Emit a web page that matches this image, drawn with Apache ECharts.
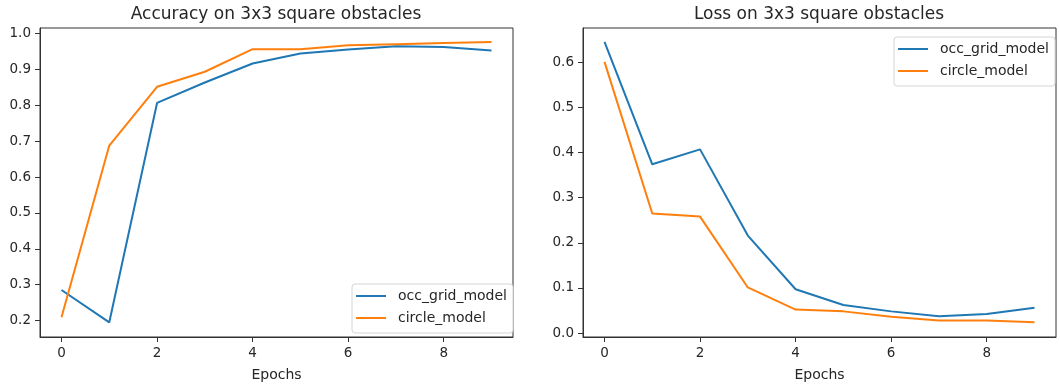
<!DOCTYPE html>
<html>
<head>
<meta charset="utf-8">
<script src="https://cdn.jsdelivr.net/npm/echarts@6/dist/echarts.min.js"></script>
<style>
  html, body { margin: 0; padding: 0; background: #fff; }
  #main { width: 1060px; height: 387px; }
</style>
</head>
<body>
<div id="main"></div>
<script>
// values
const epochs = [0, 1, 2, 3, 4, 5, 6, 7, 8, 9];
const accOccGrid = [0.285, 0.195, 0.807, 0.864, 0.917, 0.945, 0.956, 0.965, 0.963, 0.953];
const accCircle  = [0.209, 0.688, 0.852, 0.894, 0.957, 0.957, 0.968, 0.971, 0.974, 0.977];
const lossOccGrid = [0.645, 0.374, 0.407, 0.216, 0.097, 0.062, 0.048, 0.037, 0.042, 0.056];
const lossCircle  = [0.601, 0.265, 0.258, 0.101, 0.052, 0.048, 0.036, 0.028, 0.028, 0.024];
const xTicks = [0, 2, 4, 6, 8];
const accTicks = [0.2, 0.3, 0.4, 0.5, 0.6, 0.7, 0.8, 0.9, 1.0];
const lossTicks = [0.0, 0.1, 0.2, 0.3, 0.4, 0.5, 0.6];
const seriesNames = ['occ_grid_model', 'circle_model'];

const BLUE = '#1f77b4';
const ORANGE = '#ff7f0e';
const FONT = 'DejaVu Sans';
const TXT = '#262626';

const pairs = (xs, ys) => xs.map((x, i) => [x, ys[i]]);

const makeX = (gridIndex) => ({
  type: 'value', gridIndex,
  min: -0.45, max: 9.45,
  name: 'Epochs', nameLocation: 'middle', nameGap: 31,
  nameTextStyle: { fontFamily: FONT, fontSize: 14, color: TXT },
  axisLine: { show: true, onZero: false, lineStyle: { color: '#333', width: 1 } },
  axisTick: { show: true, length: 5, lineStyle: { color: '#333', width: 1 }, customValues: xTicks },
  axisLabel: { fontFamily: FONT, fontSize: 13.5, color: TXT, margin: 9, customValues: xTicks },
  splitLine: { show: false }
});

const makeY = (gridIndex, min, max, ticks) => ({
  type: 'value', gridIndex, min, max,
  axisLine: { show: true, onZero: false, lineStyle: { color: '#333', width: 1 } },
  axisTick: { show: true, length: 5, lineStyle: { color: '#333', width: 1 }, customValues: ticks },
  axisLabel: { fontFamily: FONT, fontSize: 13.5, color: TXT, margin: 9, customValues: ticks,
    formatter: v => v.toFixed(1) },
  splitLine: { show: false }
});

const line = (name, color, idx, data) => ({
  name, type: 'line', xAxisIndex: idx, yAxisIndex: idx,
  data, symbol: 'none', smooth: false,
  lineStyle: { color, width: 2 }, itemStyle: { color },
  emphasis: { disabled: true }, z: 3
});

const legendBase = {
  orient: 'vertical',
  data: seriesNames,
  icon: 'rect', itemWidth: 30, itemHeight: 2, itemGap: 6,
  backgroundColor: '#fff', borderColor: '#d5d5d5', borderWidth: 1, borderRadius: 3,
  padding: [4, 6, 7, 4],
  selectedMode: false,
  textStyle: { fontFamily: FONT, fontSize: 14, color: TXT, lineHeight: 16, padding: [0, 0, 0, 7] }
};

const chart = echarts.init(document.getElementById('main'), null, { renderer: 'canvas' });
chart.setOption({
  animation: false,
  backgroundColor: '#fff',
  title: [
    { text: 'Accuracy on 3x3 square obstacles', left: 276, top: 6, textAlign: 'center', padding: 0,
      textStyle: { fontFamily: FONT, fontSize: 17, fontWeight: 'normal', color: TXT } },
    { text: 'Loss on 3x3 square obstacles', left: 819, top: 6, textAlign: 'center', padding: 0,
      textStyle: { fontFamily: FONT, fontSize: 17, fontWeight: 'normal', color: TXT } }
  ],
  grid: [
    { left: 40, top: 28, width: 473, height: 312, show: true, borderColor: '#333', borderWidth: 1, backgroundColor: '#fff' },
    { left: 583, top: 28, width: 473, height: 312, show: true, borderColor: '#333', borderWidth: 1, backgroundColor: '#fff' }
  ],
  xAxis: [makeX(0), makeX(1)],
  yAxis: [makeY(0, 0.154, 1.016, accTicks), makeY(1, -0.0088, 0.676, lossTicks)],
  legend: [
    Object.assign({}, legendBase, { right: 547, bottom: 54 }),
    Object.assign({}, legendBase, { right: 5, top: 37 })
  ],
  series: [
    line(seriesNames[0], BLUE, 0, pairs(epochs, accOccGrid)),
    line(seriesNames[1], ORANGE, 0, pairs(epochs, accCircle)),
    line(seriesNames[0], BLUE, 1, pairs(epochs, lossOccGrid)),
    line(seriesNames[1], ORANGE, 1, pairs(epochs, lossCircle))
  ]
});
</script>
</body>
</html>
